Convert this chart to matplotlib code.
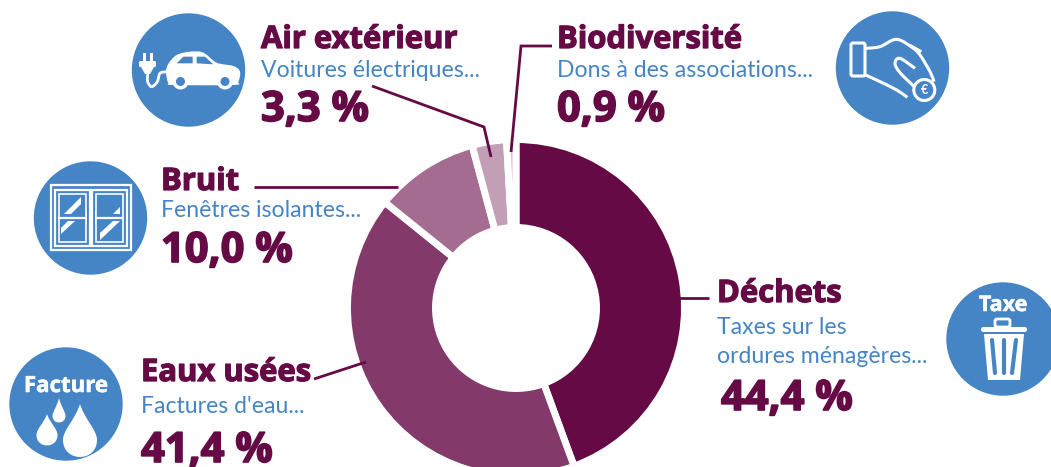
import matplotlib
matplotlib.use('Agg')
import matplotlib.pyplot as plt
import matplotlib.patheffects as pe
from matplotlib.patches import Circle, Rectangle, FancyBboxPatch, PathPatch, Polygon
from matplotlib.path import Path

# Sample data
categories = ['Déchets', 'Eaux usées', 'Bruit', 'Air extérieur', 'Biodiversité']
values = [44.4, 41.4, 10.0, 3.3, 0.9]
examples = [['Taxes sur les', 'ordures ménagères...'], ["Factures d'eau..."], ['Fenêtres isolantes...'],
            ['Voitures électriques...'], ['Dons à des associations...']]

slice_colors = ['#660a45', '#833a6a', '#a36c90', '#c39fb6', '#d9c5d2']
PURPLE = '#660a45'
BLUE = '#4585c6'
WHITE = 'white'
W, H = 1051, 467

plt.rcParams['font.family'] = ['Lato', 'DejaVu Sans']
HEAVY = ['Open Sans', 'DejaVu Sans']

fig = plt.figure(figsize=(W / 100, H / 100), dpi=100)

# ring, y axis going up
ax_pie = fig.add_axes([0, 0, 1, 1])
ax_pie.pie(values, center=(516, H - 308), radius=168.5, startangle=90, counterclock=False,
           colors=slice_colors, frame=False,
           wedgeprops=dict(width=88, edgecolor='white', linewidth=5))
ax_pie.set_xlim(0, W)
ax_pie.set_ylim(0, H)
ax_pie.set_aspect('auto')
ax_pie.axis('off')

# everything else in picture pixels
ax = fig.add_axes([0, 0, 1, 1])
ax.set_xlim(0, W)
ax.set_ylim(H, 0)
ax.axis('off')
ax.patch.set_alpha(0)


def heavy(x, y, s, size, color=PURPLE, ha='left', stroke=0.9):
    ax.text(x, y, s, color=color, fontsize=size, fontweight='bold', family=HEAVY, ha=ha, va='baseline',
            path_effects=[pe.withStroke(linewidth=stroke, foreground=color)])


# x, title y, list of example y, value y, value x
text_pos = [
    (717, 302, [334, 363], 410, 721),
    (141, 381, [413], 462, 141),
    (161, 190, [217], 262, 161),
    (261, 48, [77], 121, 261),
    (557, 48, [77], 121, 557),
]
for cat, val, ex, (x, ty, eys, vy, vx) in zip(categories, values, examples, text_pos):
    heavy(x, ty, cat, 22.3)
    for line, ey in zip(ex, eys):
        ax.text(x, ey, line, color=BLUE, fontsize=16.6, va='baseline')
    heavy(vx, vy, f'{val:.1f} %'.replace('.', ','), 30, stroke=1.2)

# leader lines
leaders = [
    [(678, 298), (709, 298)],
    [(314, 379), (366, 362)],
    [(254, 187), (398, 187)],
    [(372, 86), (484, 127), (491, 157)],
    [(552, 46), (521, 46), (511, 152)],
]
for pts in leaders:
    ax.plot(*zip(*pts), color=PURPLE, lw=2.0, solid_capstyle='butt', solid_joinstyle='miter')

# icon discs
for cx, cy in [(188.5, 70), (90.5, 218), (892.5, 68), (1003, 339), (66, 404)]:
    ax.add_patch(Circle((cx, cy), 56.7, color=BLUE, lw=0))


def smooth(points, closed=False, **kw):
    # catmull-rom through the points, turned into bezier pieces
    n = len(points)
    get = (lambda i: points[i % n]) if closed else (lambda i: points[max(0, min(n - 1, i))])
    verts = [points[0]]
    for i in range(n if closed else n - 1):
        p0, p1, p2, p3 = get(i - 1), get(i), get(i + 1), get(i + 2)
        verts.append((p1[0] + (p2[0] - p0[0]) / 6, p1[1] + (p2[1] - p0[1]) / 6))
        verts.append((p2[0] - (p3[0] - p1[0]) / 6, p2[1] - (p3[1] - p1[1]) / 6))
        verts.append(p2)
    codes = [Path.MOVETO] + [Path.CURVE4] * (len(verts) - 1)
    ax.add_patch(PathPatch(Path(verts, codes), **kw))


def drop(x, top, yc, r):
    verts = [(x, top), (x + r * 0.3, top + (yc - top) * 0.45), (x + r, yc - r * 0.6), (x + r, yc),
             (x + r, yc + r * 1.33), (x - r, yc + r * 1.33), (x - r, yc),
             (x - r, yc - r * 0.6), (x - r * 0.3, top + (yc - top) * 0.45), (x, top)]
    codes = [Path.MOVETO] + [Path.CURVE4] * 9
    ax.add_patch(PathPatch(Path(verts, codes), fc=WHITE, lw=0))


def scaled(pts, x0=0, k=1 / 3):
    return [(x0 + px * k, py * k) for px, py in pts]


# water drops
heavy(66, 392, 'Facture', 16, color=WHITE, ha='center', stroke=0.4)
drop(59, 398, 416, 6.5)
drop(47, 414, 435, 10.5)
drop(80, 404, 440, 17)

# bin
heavy(1003, 311, 'Taxe', 15.5, color=WHITE, ha='center', stroke=0.4)
ax.add_patch(FancyBboxPatch((995, 319), 15, 8, boxstyle='round,pad=0,rounding_size=2', fc='none', ec=WHITE, lw=2))
ax.add_patch(FancyBboxPatch((981, 327), 46, 5, boxstyle='round,pad=0,rounding_size=2.4', fc=WHITE, lw=0))
ax.add_patch(Polygon([(984, 334), (1024, 334), (1020, 380), (988, 380)], fc=WHITE, lw=0))
for x0, x1 in [(992, 995), (1003.5, 1003.5), (1016, 1012)]:
    ax.plot([x0, x1], [340, 373], color=BLUE, lw=3, solid_capstyle='round')

# window
ax.add_patch(Rectangle((51, 185), 80, 65, fc='none', ec=WHITE, lw=1.6))
for wx in (55, 92):
    ax.add_patch(Rectangle((wx, 190), 34.5, 56, fc='none', ec=WHITE, lw=1.6))
    ax.add_patch(Rectangle((wx + 4, 194), 26.5, 48, fc='none', ec=WHITE, lw=1.2))
    ax.plot([wx + 4, wx + 30], [218, 218], color=WHITE, lw=1.6)
ax.add_patch(Polygon([(64, 214), (81, 197), (81, 204), (71, 214)], fc=WHITE, lw=0))
ax.add_patch(Polygon([(61, 234), (75, 221), (68, 221), (61, 228)], fc=WHITE, lw=0))
ax.add_patch(Polygon([(113, 214), (120, 214), (120, 207)], fc=WHITE, lw=0))
ax.add_patch(Polygon([(100, 240), (120, 221), (113, 221), (100, 233)], fc=WHITE, lw=0))
ax.add_patch(Rectangle((85.5, 211), 1.5, 13, fc=WHITE, lw=0))
ax.add_patch(Rectangle((94.5, 211), 1.5, 13, fc=WHITE, lw=0))

# car and plug
smooth(scaled([(505, 250), (498, 215), (506, 190), (530, 165), (570, 155), (610, 158), (650, 188),
               (700, 198), (720, 215), (715, 245), (700, 255), (520, 255)]), closed=True, fc=WHITE, lw=0)
for cx in (180.5, 225):
    ax.add_patch(Circle((cx, 81.5), 8, fc=WHITE, lw=0))
    ax.add_patch(Circle((cx, 81.5), 4.5, fc=BLUE, lw=0))
ax.add_patch(Polygon(scaled([(530, 190), (550, 170), (578, 170), (578, 190)]), fc=BLUE, lw=0))
ax.add_patch(Polygon(scaled([(590, 170), (615, 170), (640, 193), (590, 190)]), fc=BLUE, lw=0))
ax.add_patch(FancyBboxPatch((139, 61), 17, 6, boxstyle='round,pad=0,rounding_size=1.5', fc=WHITE, lw=0))
ax.add_patch(Rectangle((142.5, 53), 3, 8, fc=WHITE, lw=0))
ax.add_patch(Rectangle((149.5, 53), 3, 8, fc=WHITE, lw=0))
ax.add_patch(Polygon([(141, 67), (154, 67), (150, 74), (145, 74)], fc=WHITE, lw=0))
smooth(scaled([(443, 220), (443, 245), (455, 260), (472, 245), (480, 220), (502, 215)]), fc='none', ec=WHITE, lw=2)

# hand and coin
hand_x = 800
ax.add_patch(FancyBboxPatch((851, 43), 14, 33, boxstyle='round,pad=0,rounding_size=2', fc='none', ec=WHITE, lw=2.2))
smooth(scaled([(197, 145), (240, 140), (290, 118), (340, 145), (362, 168), (390, 215), (402, 245)], hand_x),
       fc='none', ec=WHITE, lw=2.2)
smooth(scaled([(197, 225), (240, 245), (290, 270), (322, 292)], hand_x), fc='none', ec=WHITE, lw=2.2)
smooth(scaled([(345, 205), (300, 175), (285, 190), (300, 218), (345, 262)], hand_x), fc='none', ec=WHITE, lw=2.2)
ax.plot([911, 920], [46, 51], color=WHITE, lw=2.2)
ax.add_patch(Circle((924.3, 90), 10.5, fc=BLUE, ec=WHITE, lw=2.2))
ax.text(924.3, 94, '€', color=WHITE, fontsize=9, fontweight='bold', ha='center', va='baseline')

fig.savefig('out.png', dpi=100)
plt.close(fig)
